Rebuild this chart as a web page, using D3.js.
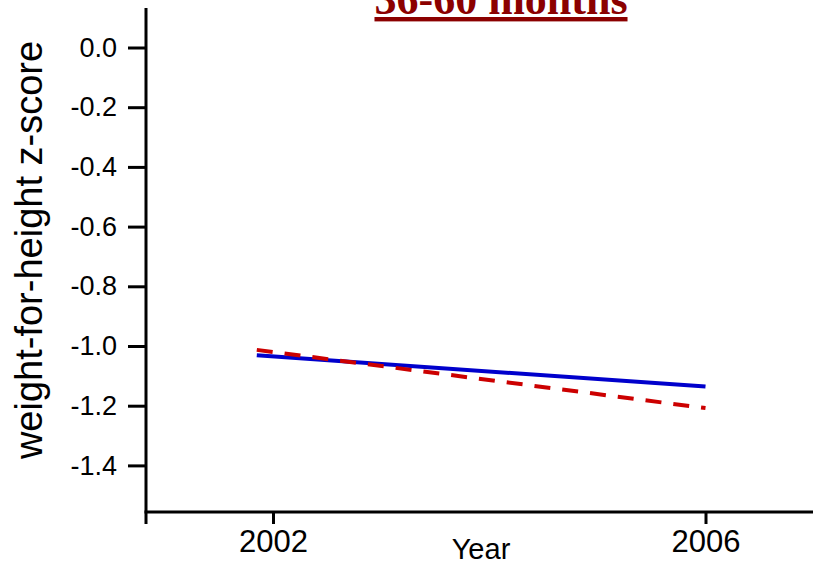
<!DOCTYPE html>
<html>
<head>
<meta charset="utf-8">
<script src="https://cdn.jsdelivr.net/npm/d3@7"></script>
<style>
  body { margin: 0; background: #fff; }
  svg text { font-family: Arial, "Liberation Sans", sans-serif; }
</style>
</head>
<body>
<div id="chart"></div>
<script>
// values
var years = [2002, 2006];
var yTicks = [0.0, -0.2, -0.4, -0.6, -0.8, -1.0, -1.2, -1.4];
var lineYears = [2001.85, 2006];
var solidSeries = [-1.031, -1.136];
var dashedSeries = [-1.013, -1.208];

var outwidth = 813,
    outheight = 566;

var svg = d3.select("#chart")
    .append("svg")
    .attr("width", outwidth)
    .attr("height", outheight);

var x = d3.scaleLinear()
    .domain([2002, 2006])
    .range([273, 705.5]);

var y = d3.scaleLinear()
    .domain([-1.4, 0])
    .range([465.4, 47.5]);

var axisX = 146, axisY = 512;

// y axis ticks
var yAxis = d3.axisLeft(y)
    .tickValues(yTicks)
    .tickFormat(d3.format(".1f"))
    .tickSize(18)
    .tickPadding(11);
var gy = svg.append("g")
    .attr("class", "y-axis")
    .attr("transform", `translate(${axisX},0)`)
    .call(yAxis);
gy.select(".domain").remove();
gy.selectAll(".tick line").attr("stroke", "#000").attr("stroke-width", 3);
gy.selectAll(".tick text")
    .attr("fill", "#000")
    .style("font-size", "27px")
    .text(d => d === 0 ? "0.0" : d3.format(".1f")(d).replace("−", "-"));

// x axis ticks
var xAxis = d3.axisBottom(x)
    .tickValues(years)
    .tickFormat(d3.format("d"))
    .tickSize(12)
    .tickPadding(6);
var gx = svg.append("g")
    .attr("class", "x-axis")
    .attr("transform", `translate(0,${axisY})`)
    .call(xAxis);
gx.select(".domain").remove();
gx.selectAll(".tick line").attr("stroke", "#000").attr("stroke-width", 3);
gx.selectAll(".tick text")
    .attr("fill", "#000")
    .style("font-size", "31px");

// axis lines
svg.append("line")
    .attr("x1", axisX).attr("x2", axisX)
    .attr("y1", 8).attr("y2", axisY + 12)
    .attr("stroke", "#000").attr("stroke-width", 3);
svg.append("line")
    .attr("x1", axisX - 1.5).attr("x2", outwidth)
    .attr("y1", axisY).attr("y2", axisY)
    .attr("stroke", "#000").attr("stroke-width", 3);

// lines
var line = d3.line()
    .x((d, i) => x(lineYears[i]))
    .y(d => y(d));

svg.append("path")
    .datum(solidSeries)
    .attr("fill", "none")
    .attr("stroke", "#0000cc")
    .attr("stroke-width", 4)
    .attr("d", line);

svg.append("path")
    .datum(dashedSeries)
    .attr("fill", "none")
    .attr("stroke", "#cc0000")
    .attr("stroke-width", 4)
    .attr("stroke-dasharray", "16,12")
    .attr("d", line);

// titles
svg.append("text")
    .attr("x", 501)
    .attr("y", 14)
    .attr("text-anchor", "middle")
    .attr("fill", "#8b0000")
    .style("font-family", "'Liberation Serif', 'Times New Roman', serif")
    .style("font-weight", "bold")
    .style("font-size", "44px")
    .style("text-decoration", "underline")
    .text("36-60 months");

svg.append("text")
    .attr("x", 481)
    .attr("y", 559)
    .attr("text-anchor", "middle")
    .attr("fill", "#000")
    .style("font-size", "29px")
    .text("Year");

svg.append("text")
    .attr("transform", "translate(42,250) rotate(-90)")
    .attr("text-anchor", "middle")
    .attr("fill", "#000")
    .style("font-size", "38px")
    .text("weight-for-height z-score");
</script>
</body>
</html>
